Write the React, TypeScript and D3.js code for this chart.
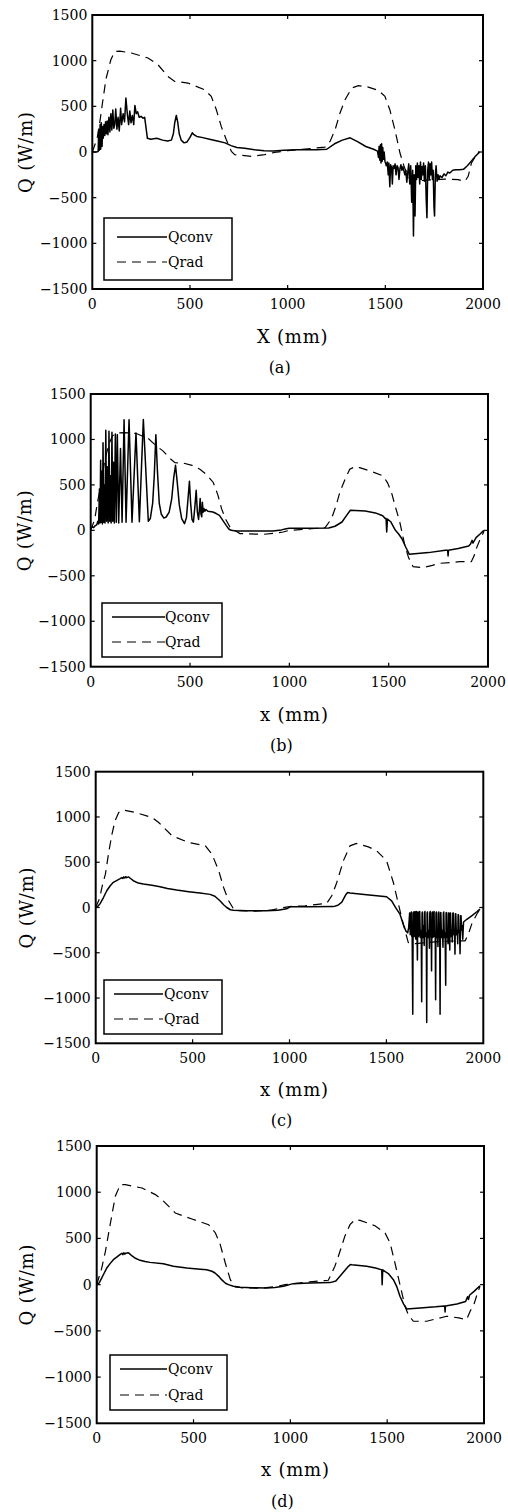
import React from "react";
import * as d3 from "d3";

type Pt = [number, number];

const xTicks = [0, 500, 1000, 1500, 2000];
const yTicks = [-1500, -1000, -500, 0, 500, 1000, 1500];
const seriesNames = ["Qconv", "Qrad"];

// ---------- panel (a) ----------
const convA: Pt[] = [
  [0, 0], [20, 0], [30, 5], [33, 250], [36, 20], [40, 300], [43, 30], [46, 320], [50, 60], [53, 280], [56, 150],
  [60, 300], [64, 180], [68, 330], [72, 200], [76, 340], [80, 190], [85, 380], [90, 220], [95, 420], [100, 240],
  [105, 460], [110, 260], [115, 300], [120, 470], [126, 250], [132, 380], [138, 230], [145, 480], [150, 300],
  [158, 420], [165, 330], [172, 590], [180, 400], [186, 300], [192, 450], [198, 320], [205, 400], [212, 300],
  [218, 510], [225, 420], [232, 440], [240, 380], [250, 390], [260, 370], [268, 380], [276, 250], [282, 150],
  [300, 140], [330, 150], [360, 130], [385, 120], [405, 130], [415, 200], [422, 320], [430, 400], [437, 330],
  [445, 200], [455, 130], [470, 100], [485, 110], [500, 160], [512, 210], [520, 190], [535, 170], [560, 160],
  [600, 140], [640, 120], [680, 100], [710, 70], [740, 50], [780, 40], [830, 25], [880, 15], [930, 10], [980, 20],
  [1050, 25], [1100, 25], [1150, 25], [1200, 30], [1240, 90], [1280, 130], [1320, 155], [1360, 110], [1400, 60],
  [1440, 30], [1460, 10], [1465, -60], [1468, 60], [1472, -90], [1475, 80], [1478, -120], [1481, 90], [1484, -100],
  [1487, 50], [1490, -80], [1494, 0], [1498, -100], [1505, -150], [1510, -110], [1515, -250], [1518, -120],
  [1523, -380], [1527, -140], [1532, -170], [1536, -350], [1540, -150], [1545, -180], [1550, -130], [1555, -250],
  [1560, -150], [1565, -170], [1570, -300], [1575, -180], [1580, -140], [1585, -200], [1590, -160], [1600, -250],
  [1605, -200], [1610, -330], [1615, -220], [1620, -130], [1625, -350], [1630, -150], [1635, -550], [1640, -200],
  [1644, -920], [1648, -250], [1652, -700], [1656, -150], [1660, -300], [1664, -120], [1668, -280], [1672, -150],
  [1676, -350], [1680, -110], [1684, -300], [1688, -160], [1692, -250], [1696, -120], [1700, -320], [1705, -150],
  [1709, -500], [1713, -720], [1717, -200], [1721, -110], [1725, -300], [1729, -130], [1733, -250], [1737, -110],
  [1741, -300], [1745, -200], [1749, -600], [1752, -700], [1756, -250], [1760, -150], [1765, -320], [1770, -250],
  [1775, -300], [1780, -260], [1790, -280], [1800, -240], [1810, -260], [1820, -220], [1830, -230], [1845, -200],
  [1860, -195], [1880, -195], [1900, -190], [1920, -150], [1940, -100], [1960, -50], [1983, 0],
];
const radA: Pt[] = [
  [0, 0], [25, 150], [40, 350], [51, 520], [70, 800], [95, 1010], [115, 1100], [140, 1105], [200, 1084],
  [285, 1029], [336, 956], [387, 828], [422, 773], [490, 755], [524, 726], [575, 682], [609, 609], [635, 463],
  [660, 280], [686, 134], [712, 7], [729, -29], [814, -48], [882, -29], [933, -4], [1000, 15], [1089, 32],
  [1191, 54], [1217, 116], [1243, 244], [1268, 427], [1294, 573], [1328, 700], [1362, 726], [1413, 711],
  [1464, 675], [1498, 609], [1523, 463], [1549, 244], [1575, -11], [1595, -150], [1615, -270], [1640, -320],
  [1700, -310], [1805, -296], [1873, -303], [1907, -321], [1924, -266], [1941, -120], [1967, -29], [1980, 7],
];

// ---------- panel (b) ----------
const convB: Pt[] = [
  [0, 20], [8, 40], [15, 30], [22, 50], [30, 60], [36, 100], [40, 70], [44, 454], [47, 80], [50, 770], [53, 90],
  [56, 650], [59, 70], [62, 963], [66, 90], [69, 500], [72, 80], [76, 1100], [80, 100], [84, 700], [88, 80],
  [92, 1090], [96, 100], [99, 600], [103, 80], [107, 1080], [111, 100], [115, 750], [119, 80], [124, 1060],
  [129, 90], [134, 1053], [141, 80], [150, 900], [158, 90], [168, 1217], [178, 90], [193, 1217], [208, 90],
  [228, 1072], [245, 95], [265, 1220], [290, 100], [300, 130], [312, 300], [320, 600], [328, 1053], [336, 650],
  [345, 300], [355, 180], [368, 135], [380, 147], [395, 200], [408, 350], [418, 580], [427, 715], [436, 520],
  [446, 280], [458, 130], [472, 73], [482, 140], [490, 350], [497, 540], [503, 300], [510, 120], [517, 90],
  [524, 250], [531, 440], [537, 200], [543, 120], [548, 250], [551, 350], [555, 180], [559, 150], [562, 310],
  [566, 200], [570, 240], [575, 210], [580, 230], [590, 210], [615, 202], [632, 185], [648, 165], [665, 110],
  [682, 55], [695, 15], [707, 0], [732, -7], [800, -8], [880, -8], [917, -7], [960, 5], [984, 18], [1000, 22],
  [1100, 24], [1198, 26], [1230, 45], [1265, 92], [1290, 170], [1307, 221], [1382, 213], [1433, 192], [1470, 160],
  [1483, 129], [1487, 130], [1490, -18], [1494, 125], [1510, 95], [1534, 0], [1550, -40], [1567, -92], [1585, -180],
  [1604, -264], [1700, -245], [1785, -220], [1797, -220], [1799, -282], [1801, -220], [1850, -200], [1903, -172],
  [1912, -150], [1920, -110], [1924, -140], [1940, -80], [1960, -40], [1979, 0],
];
const radB: Pt[] = [
  [0, 0], [20, 120], [35, 320], [50, 480], [70, 760], [90, 940], [110, 1040], [130, 1070], [170, 1075],
  [230, 1065], [290, 1010], [332, 926], [365, 872], [400, 790], [424, 745], [466, 740], [510, 715], [550, 672],
  [585, 610], [617, 527], [640, 390], [659, 236], [680, 120], [701, 36], [751, -36], [868, -44], [930, -30],
  [969, -18], [1000, 0], [1100, 15], [1180, 30], [1212, 127], [1235, 270], [1254, 418], [1280, 560], [1304, 672],
  [1330, 700], [1354, 690], [1410, 650], [1472, 599], [1495, 520], [1514, 418], [1535, 250], [1556, 91],
  [1581, -163], [1600, -300], [1623, -400], [1673, -410], [1720, -385], [1757, -363], [1857, -345], [1916, -345],
  [1930, -280], [1941, -200], [1960, -100], [1980, -10],
];

// ---------- panel (c) ----------
const convC: Pt[] = [
  [0, 0], [10, 10], [22, 40], [40, 110], [57, 185], [75, 240], [91, 278], [110, 300], [126, 318], [135, 330],
  [140, 320], [145, 338], [150, 325], [155, 340], [160, 330], [169, 338], [180, 320], [194, 296], [220, 270],
  [246, 259], [290, 245], [332, 230], [370, 210], [418, 193], [480, 175], [538, 160], [590, 145], [615, 125],
  [641, 74], [660, 30], [676, 0], [695, -25], [710, -30], [780, -35], [882, -37], [940, -30], [985, -15],
  [1003, 7], [1100, 8], [1226, 10], [1250, 25], [1270, 60], [1290, 140], [1300, 165], [1312, 160], [1398, 141],
  [1450, 130], [1501, 119], [1527, 74], [1550, -10], [1570, -74], [1587, -184], [1600, -258], [1610, -280],
  [1615, -220], [1620, -60], [1623, -300], [1625, -280], [1627, -60], [1629, -50], [1631, -320], [1633, -300],
  [1636, -1180], [1638, -60], [1640, -50], [1642, -320], [1644, -250], [1646, -50], [1648, -45], [1650, -330],
  [1652, -350], [1654, -60], [1656, -45], [1658, -300], [1660, -580], [1662, -60], [1664, -50], [1666, -320],
  [1668, -300], [1670, -60], [1672, -45], [1675, -330], [1677, -250], [1680, -300], [1682, -1040], [1684, -60],
  [1686, -50], [1688, -330], [1690, -300], [1693, -200], [1695, -420], [1697, -60], [1699, -45], [1701, -320],
  [1703, -280], [1706, -300], [1708, -1270], [1710, -60], [1712, -50], [1715, -330], [1717, -300], [1720, -250],
  [1722, -450], [1724, -60], [1726, -45], [1729, -320], [1731, -250], [1733, -700], [1735, -60], [1737, -50],
  [1740, -330], [1742, -320], [1744, -60], [1746, -45], [1748, -320], [1750, -280], [1752, -300], [1754, -1020],
  [1756, -60], [1758, -50], [1760, -330], [1762, -300], [1764, -250], [1766, -430], [1768, -60], [1770, -50],
  [1772, -330], [1773, -280], [1775, -300], [1777, -1180], [1779, -60], [1781, -55], [1784, -330], [1786, -300],
  [1789, -250], [1792, -440], [1794, -60], [1796, -50], [1799, -330], [1801, -280], [1803, -300], [1806, -860],
  [1808, -60], [1810, -55], [1812, -330], [1814, -300], [1816, -250], [1818, -400], [1820, -60], [1822, -60],
  [1825, -300], [1827, -470], [1829, -60], [1831, -60], [1834, -320], [1836, -300], [1838, -250], [1840, -380],
  [1843, -60], [1845, -60], [1848, -300], [1850, -250], [1852, -300], [1854, -515], [1856, -70], [1858, -70],
  [1861, -300], [1863, -300], [1866, -250], [1868, -400], [1870, -80], [1872, -80], [1874, -280], [1876, -250],
  [1878, -300], [1880, -510], [1883, -90], [1885, -90], [1888, -250], [1890, -200], [1894, -350], [1898, -160],
  [1915, -130], [1940, -92], [1965, -50], [1983, -18],
];
const radC: Pt[] = [
  [0, 0], [20, 100], [35, 250], [50, 368], [68, 620], [84, 811], [100, 960], [119, 1050], [146, 1075],
  [204, 1050], [291, 994], [325, 939], [394, 792], [480, 718], [566, 681], [600, 589], [635, 405], [660, 221],
  [686, 74], [712, -18], [740, -35], [820, -40], [900, -30], [960, -5], [1000, 10], [1080, 19], [1192, 45],
  [1218, 129], [1244, 276], [1278, 516], [1312, 681], [1346, 707], [1407, 670], [1450, 626], [1501, 516],
  [1536, 276], [1562, 37], [1587, -184], [1613, -387], [1650, -400], [1750, -380], [1850, -370], [1906, -368],
  [1923, -295], [1940, -184], [1966, -74], [1983, -18],
];

// ---------- panel (d) ----------
const convD: Pt[] = [
  [0, 0], [10, 10], [17, 36], [35, 110], [52, 180], [70, 230], [86, 270], [105, 300], [120, 324], [130, 340],
  [135, 325], [140, 345], [145, 330], [150, 340], [164, 345], [172, 330], [181, 313], [200, 285], [224, 263],
  [250, 250], [275, 241], [344, 227], [396, 198], [465, 180], [520, 170], [568, 162], [595, 145], [611, 126],
  [630, 90], [645, 54], [665, 15], [680, 0], [706, -18], [740, -29], [800, -33], [878, -36], [920, -30],
  [964, -18], [1015, 11], [1100, 18], [1205, 22], [1235, 40], [1256, 90], [1280, 150], [1300, 198], [1310, 218],
  [1317, 216], [1394, 198], [1440, 180], [1472, 160], [1474, 0], [1477, 160], [1490, 140], [1506, 120],
  [1532, 54], [1549, -18], [1566, -126], [1585, -210], [1601, -263], [1670, -252], [1750, -240], [1797, -230],
  [1799, -295], [1801, -230], [1860, -210], [1905, -182], [1915, -130], [1920, -160], [1925, -115], [1950, -70],
  [1979, -11],
];
const radD: Pt[] = [
  [0, 0], [25, 170], [45, 361], [71, 667], [96, 956], [122, 1082], [148, 1082], [234, 1046], [303, 974],
  [337, 920], [406, 775], [492, 710], [578, 649], [613, 559], [638, 433], [664, 234], [690, 54], [716, -25],
  [760, -35], [850, -38], [930, -20], [972, 0], [1100, 30], [1196, 47], [1230, 199], [1248, 307], [1282, 527],
  [1308, 649], [1334, 704], [1360, 696], [1437, 637], [1489, 559], [1515, 451], [1540, 235], [1566, 0],
  [1592, -234], [1609, -325], [1635, -396], [1704, -396], [1807, -342], [1870, -360], [1910, -378], [1930, -280],
  [1945, -234], [1962, -120], [1979, -18],
];

interface Panel {
  conv: Pt[];
  rad: Pt[];
  L: number; T: number; R: number; B: number;
  xlabel: string; sub: string;
  xlabY: number; subY: number; ylabX: number;
  leg: { x: number; y: number; w: number; h: number; y1: number; y2: number; lx1: number; lx2: number; tx: number };
}

const panels: Panel[] = [
  { conv: convA, rad: radA, L: 92.3, T: 15, R: 483, B: 289, xlabel: "X (mm)", sub: "(a)", xlabY: 337, subY: 367, ylabX: 26,
    leg: { x: 104, y: 218, w: 128, h: 62, y1: 237, y2: 262, lx1: 117, lx2: 167, tx: 168 } },
  { conv: convB, rad: radB, L: 90.7, T: 394, R: 488, B: 666.7, xlabel: "x (mm)", sub: "(b)", xlabY: 715, subY: 745, ylabX: 25,
    leg: { x: 102, y: 603, w: 120, h: 54, y1: 617, y2: 642, lx1: 112, lx2: 165, tx: 165 } },
  { conv: convC, rad: radC, L: 95.7, T: 771.7, R: 483.3, B: 1043.3, xlabel: "x (mm)", sub: "(c)", xlabY: 1090, subY: 1120, ylabX: 27,
    leg: { x: 104, y: 980, w: 118, h: 54, y1: 994, y2: 1019, lx1: 114, lx2: 163, tx: 164 } },
  { conv: convD, rad: radD, L: 96.7, T: 1146, R: 484, B: 1423.3, xlabel: "x (mm)", sub: "(d)", xlabY: 1470, subY: 1501, ylabX: 27,
    leg: { x: 110, y: 1355, w: 117, h: 55, y1: 1369, y2: 1395, lx1: 120, lx2: 167, tx: 168 } },
];

const FONT = "'DejaVu Serif', serif";
const fmt = (v: number) => (v < 0 ? "\u2212" + Math.abs(v) : String(v));

function PanelView({ p }: { p: Panel }) {
  const x = d3.scaleLinear().domain([0, 2000]).range([p.L, p.R]);
  const y = d3.scaleLinear().domain([-1500, 1500]).range([p.B, p.T]);
  const line = d3.line<Pt>().x((d) => x(d[0])).y((d) => y(d[1]));
  const tk = 4;
  const midY = (p.T + p.B) / 2;
  return (
    <g>
      <path d={line(p.rad) || ""} fill="none" stroke="#000" strokeWidth={1.2} strokeDasharray="9,6" />
      <path d={line(p.conv) || ""} fill="none" stroke="#000" strokeWidth={1.5} strokeLinejoin="round" />
      <rect x={p.L} y={p.T} width={p.R - p.L} height={p.B - p.T} fill="none" stroke="#000" strokeWidth={2} />
      {xTicks.slice(1, -1).map((v) => (
        <g key={"xt" + v}>
          <line x1={x(v)} x2={x(v)} y1={p.B} y2={p.B - tk} stroke="#000" strokeWidth={1.2} />
          <line x1={x(v)} x2={x(v)} y1={p.T} y2={p.T + tk} stroke="#000" strokeWidth={1.2} />
        </g>
      ))}
      {yTicks.slice(1, -1).map((v) => (
        <g key={"yt" + v}>
          <line x1={p.L} x2={p.L + tk} y1={y(v)} y2={y(v)} stroke="#000" strokeWidth={1.2} />
          <line x1={p.R} x2={p.R - tk} y1={y(v)} y2={y(v)} stroke="#000" strokeWidth={1.2} />
        </g>
      ))}
      {xTicks.map((v) => (
        <text key={"xl" + v} x={x(v)} y={p.B + 20} textAnchor="middle" fontSize={14} fontFamily={FONT}>
          {fmt(v)}
        </text>
      ))}
      {yTicks.map((v) => (
        <text key={"yl" + v} x={p.L - 5} y={y(v) + 5} textAnchor="end" fontSize={14} fontFamily={FONT}>
          {fmt(v)}
        </text>
      ))}
      <text x={(p.L + p.R) / 2 + 5} y={p.xlabY + 6} textAnchor="middle" fontSize={18} letterSpacing={0.8} fontFamily={FONT}>
        {p.xlabel}
      </text>
      <text x={(p.L + p.R) / 2 - 8} y={p.subY + 6} textAnchor="middle" fontSize={16} fontFamily={FONT}>
        {p.sub}
      </text>
      <text
        transform={`translate(${p.ylabX + 6},${midY}) rotate(-90)`}
        textAnchor="middle"
        fontSize={18}
        letterSpacing={0.8}
        fontFamily={FONT}
      >
        Q (W/m)
      </text>
      <rect x={p.leg.x} y={p.leg.y} width={p.leg.w} height={p.leg.h} fill="#fff" stroke="#000" strokeWidth={1.5} />
      <line x1={p.leg.lx1} x2={p.leg.lx2} y1={p.leg.y1} y2={p.leg.y1} stroke="#000" strokeWidth={1.5} />
      <line x1={p.leg.lx1} x2={p.leg.lx2} y1={p.leg.y2} y2={p.leg.y2} stroke="#000" strokeWidth={1.2} strokeDasharray="9,6" />
      <text x={p.leg.tx} y={p.leg.y1 + 5} fontSize={14} fontFamily={FONT}>{seriesNames[0]}</text>
      <text x={p.leg.tx} y={p.leg.y2 + 5} fontSize={14} fontFamily={FONT}>{seriesNames[1]}</text>
    </g>
  );
}

export default function App() {
  return (
    <svg
      width={508}
      height={1512}
      style={{ position: "absolute", left: 0, top: 0, background: "#fff" }}
    >
      <rect x={0} y={0} width={508} height={1512} fill="#fff" />
      {panels.map((p, i) => (
        <PanelView key={i} p={p} />
      ))}
    </svg>
  );
}
